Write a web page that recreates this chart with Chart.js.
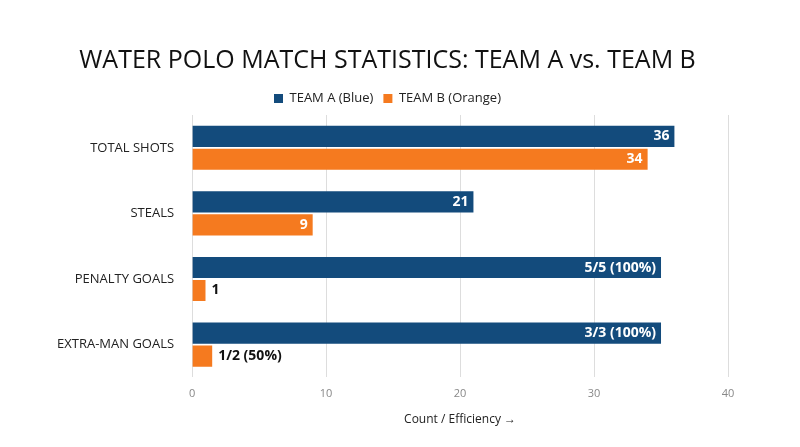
<!DOCTYPE html>
<html>
<head>
<meta charset="utf-8">
<script src="https://cdn.jsdelivr.net/npm/chart.js@4"></script>
<style>
  body { margin: 0; background: #fff; }
  #wrap { width: 800px; height: 447px; }
</style>
</head>
<body>
<div id="wrap"><canvas id="chart"></canvas></div>
<script>
const categories = ['TOTAL SHOTS', 'STEALS', 'PENALTY GOALS', 'EXTRA-MAN GOALS'];
const teamA = [36, 21, 35, 35];
const teamB = [34, 9, 1, 1.5];
const teamALabels = ['36', '21', '5/5 (100%)', '3/3 (100%)'];
const teamBLabels = ['34', '9', '1', '1/2 (50%)'];
const xTicks = [0, 10, 20, 30, 40];

// etiquetas de valor: dentro de la barra si cabe, si no afuera
const barLabels = {
  id: 'barLabels',
  afterDatasetsDraw(chart) {
    const ctx = chart.ctx;
    ctx.save();
    ctx.font = 'bold 14px "Open Sans"';
    ctx.textBaseline = 'middle';
    chart.data.datasets.forEach((ds, i) => {
      const meta = chart.getDatasetMeta(i);
      meta.data.forEach((bar, j) => {
        const txt = ds.valueLabels[j];
        const w = ctx.measureText(txt).width;
        if (bar.x - bar.base > w + 14) {
          ctx.fillStyle = '#fff';
          ctx.textAlign = 'right';
          ctx.fillText(txt, bar.x - 5, bar.y);
        } else {
          ctx.fillStyle = '#111';
          ctx.textAlign = 'left';
          ctx.fillText(txt, bar.x + 6, bar.y);
        }
      });
    });
    ctx.restore();
  }
};

new Chart(document.getElementById('chart'), {
  type: 'bar',
  data: {
    labels: categories,
    datasets: [
      { label: 'TEAM A (Blue)', data: teamA, valueLabels: teamALabels, backgroundColor: '#134b7c',
        categoryPercentage: 0.7, barPercentage: 0.92 },
      { label: 'TEAM B (Orange)', data: teamB, valueLabels: teamBLabels, backgroundColor: '#f57a1f',
        categoryPercentage: 0.7, barPercentage: 0.92 }
    ]
  },
  options: {
    indexAxis: 'y',
    responsive: true,
    maintainAspectRatio: false,
    animation: false,
    layout: { padding: { left: 47, right: 72, top: 46, bottom: 18 } },
    plugins: {
      title: {
        display: true,
        text: 'WATER POLO MATCH STATISTICS: TEAM A vs. TEAM B',
        color: '#111',
        font: { family: 'Open Sans', size: 25, weight: 'normal' },
        padding: { top: 0, bottom: 6 }
      },
      legend: {
        labels: {
          boxWidth: 9, boxHeight: 9, color: '#222',
          font: { family: 'Open Sans', size: 13 }
        }
      },
      tooltip: { enabled: false }
    },
    scales: {
      x: {
        min: 0, max: 40,
        afterBuildTicks: axis => { axis.ticks = xTicks.map(v => ({ value: v })); },
        grid: { color: '#dddddd', drawTicks: false },
        border: { display: false },
        ticks: { color: '#888', padding: 10, font: { family: 'Open Sans', size: 11 } },
        title: { display: true, text: 'Count / Efficiency →', color: '#222', padding: 2,
                 font: { family: 'Open Sans', size: 12 } }
      },
      y: {
        grid: { display: false },
        border: { display: false },
        ticks: { color: '#222', padding: 10, font: { family: 'Open Sans', size: 13 } }
      }
    }
  },
  plugins: [barLabels]
});
</script>
</body>
</html>
